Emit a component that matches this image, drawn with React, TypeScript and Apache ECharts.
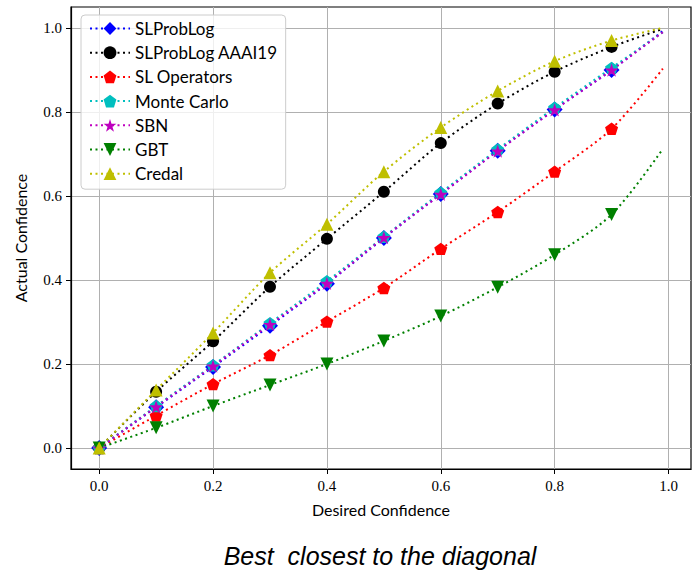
import React, { useEffect, useRef } from "react";
import * as echarts from "echarts";

const xValues = [0, 0.1, 0.2, 0.3, 0.4, 0.5, 0.6, 0.7, 0.8, 0.9, 0.99];
const slProbLog = [0, 0.097, 0.193, 0.291, 0.391, 0.5, 0.605, 0.708, 0.806, 0.9, 0.993];
const slProbLogAAAI19 = [0, 0.134, 0.254, 0.384, 0.498, 0.61, 0.726, 0.82, 0.896, 0.955, 0.998];
const slOperators = [0, 0.077, 0.152, 0.221, 0.301, 0.381, 0.474, 0.562, 0.658, 0.76, 0.903];
const monteCarlo = [0, 0.1, 0.197, 0.297, 0.397, 0.503, 0.608, 0.711, 0.81, 0.905, 0.99];
const sbn = [0, 0.098, 0.195, 0.294, 0.392, 0.501, 0.604, 0.707, 0.805, 0.9, 0.99];
const gbt = [0, 0.048, 0.1, 0.15, 0.2, 0.255, 0.314, 0.383, 0.46, 0.556, 0.712];
const credal = [0, 0.138, 0.274, 0.417, 0.533, 0.658, 0.763, 0.85, 0.921, 0.97, 1.0];
const tickValues = [0, 0.2, 0.4, 0.6, 0.8, 1.0];

const PENTAGON = "path://M0,-1 L0.951,-0.309 L0.588,0.809 L-0.588,0.809 L-0.951,-0.309 Z";
const STAR =
  "path://M0,-1 L0.2245,-0.309 L0.951,-0.309 L0.363,0.118 L0.588,0.809 L0,0.382 L-0.588,0.809 L-0.363,0.118 L-0.951,-0.309 L-0.2245,-0.309 Z";
const TRI_DOWN = "path://M-1,-1 L1,-1 L0,1 Z";
const TRI_UP = "path://M0,-1 L1,1 L-1,1 Z";

const seriesDefs = [
  { name: "SLProbLog", data: slProbLog, color: "#0000ff", symbol: "diamond", size: 16 },
  { name: "SLProbLog AAAI19", data: slProbLogAAAI19, color: "#000000", symbol: "circle", size: 12 },
  { name: "SL Operators", data: slOperators, color: "#ff0000", symbol: PENTAGON, size: 13 },
  { name: "Monte Carlo", data: monteCarlo, color: "#00bfbf", symbol: PENTAGON, size: 13 },
  { name: "SBN", data: sbn, color: "#bf00bf", symbol: STAR, size: 14 },
  { name: "GBT", data: gbt, color: "#008000", symbol: TRI_DOWN, size: 13 },
  { name: "Credal", data: credal, color: "#bfbf00", symbol: TRI_UP, size: 13 },
];

export default function App() {
  const ref = useRef<HTMLDivElement>(null);
  useEffect(() => {
    if (!ref.current) return;
    const chart = echarts.init(ref.current, undefined, { renderer: "svg" });
    const serif = '"Liberation Serif", "DejaVu Serif", serif';
    const sans = 'Lato, "Open Sans", sans-serif';
    const axisCommon = {
      axisLine: { show: true, onZero: false, lineStyle: { color: "#000", width: 1.2 } },
      axisTick: { show: true, inside: false, length: 5, customValues: tickValues, lineStyle: { color: "#000" } },
      axisLabel: {
        customValues: tickValues,
        formatter: (v: number) => v.toFixed(1),
        fontFamily: serif,
        fontSize: 15,
        color: "#000",
        margin: 9,
      },
      splitLine: { show: true, lineStyle: { color: "#b0b0b0", width: 1 } },
    };
    chart.setOption({
      animation: false,
      grid: {
        left: 71,
        top: 7,
        right: 6,
        bottom: 103,
        show: true,
        borderColor: "#000",
        borderWidth: 1.2,
        backgroundColor: "transparent",
      },
      legend: {
        orient: "vertical",
        left: 81,
        top: 15,
        padding: [5, 8, 7, 8],
        itemGap: 7.2,
        itemWidth: 40,
        itemHeight: 16,
        backgroundColor: "rgba(255,255,255,0.8)",
        borderColor: "#cccccc",
        borderWidth: 1,
        borderRadius: 4,
        textStyle: { fontFamily: sans, fontSize: 17, lineHeight: 16, color: "#000" },
        data: seriesDefs.map((s) => s.name),
      },
      xAxis: {
        type: "value",
        min: -0.0495,
        max: 1.0395,
        name: "Desired Confidence",
        nameLocation: "middle",
        nameGap: 32,
        nameTextStyle: { fontFamily: sans, fontSize: 16, color: "#000" },
        ...axisCommon,
      },
      yAxis: {
        type: "value",
        min: -0.05,
        max: 1.05,
        name: "Actual Confidence",
        nameLocation: "middle",
        nameGap: 43,
        nameTextStyle: { fontFamily: sans, fontSize: 16, color: "#000" },
        ...axisCommon,
      },
      graphic: [
        {
          type: "text",
          x: 380,
          y: 556,
          style: {
            text: "Best  closest to the diagonal",
            textAlign: "center",
            textVerticalAlign: "middle",
            font: 'italic 25px "Liberation Sans", Arial, sans-serif',
            fill: "#000",
          },
        },
      ],
      series: seriesDefs.map((s) => ({
        name: s.name,
        type: "line",
        smooth: 0.3,
        symbol: s.symbol,
        symbolSize: s.size,
        symbolKeepAspect: true,
        showAllSymbol: true,
        color: s.color,
        itemStyle: { color: s.color },
        lineStyle: { color: s.color, width: 2, type: [2, 3.5] },
        data: xValues.map((x, i) =>
          i === xValues.length - 1 ? { value: [x, s.data[i]], symbol: "none" } : [x, s.data[i]]
        ),
      })),
    });
    return () => chart.dispose();
  }, []);
  return (
    <div
      ref={ref}
      style={{ position: "fixed", left: 0, top: 0, width: 697, height: 572, background: "#fff" }}
    />
  );
}
